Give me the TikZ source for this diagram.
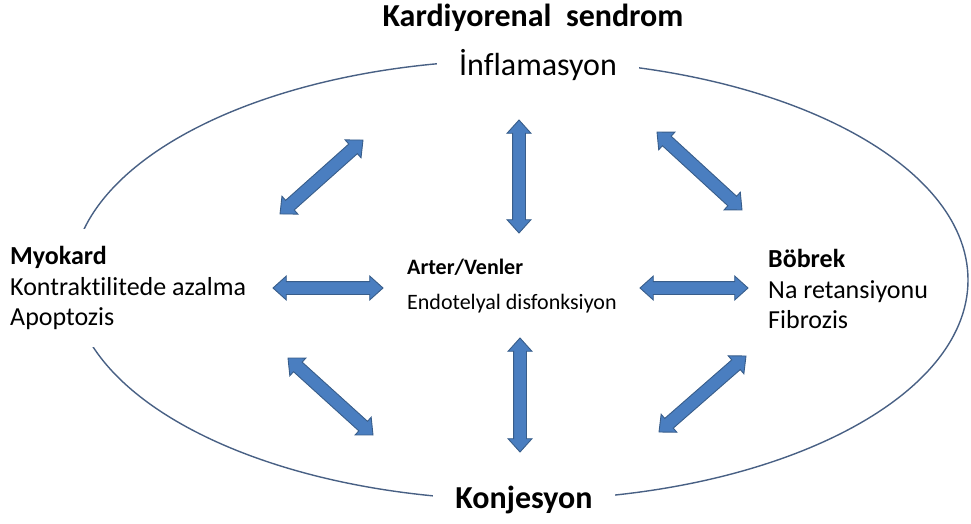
\documentclass[tikz,border=0pt]{standalone}
\usepackage{fontspec}
\setmainfont{Carlito}[Ligatures=CommonOff]
\usetikzlibrary{calc, shapes.arrows}
\definecolor{arrowfill}{RGB}{74,126,192}
\definecolor{arrowline}{RGB}{56,93,138}
\definecolor{ringcol}{RGB}{72,96,132}
\tikzset{
  ring/.style={draw=ringcol, line width=1.4pt}, % the outer ellipse
  heading/.style={font=\fontsize{32}{36}\selectfont\bfseries, inner sep=0pt},
  ringlabel/.style={ % labels that cut the ellipse
    fill=white, inner xsep=22pt, inner ysep=6pt,
    font=\fontsize{32}{36}\selectfont
  },
  sidetext/.style={font=\fontsize{26}{30.5}\selectfont, align=left, inner sep=0pt},
  midtext/.style={font=\fontsize{22}{35}\selectfont, align=left, inner sep=0pt},
  blockarrow/.style={ % blue two-headed block arrow
    double arrow, draw=arrowline, fill=arrowfill, line width=0.9pt,
    inner xsep=0pt, inner ysep=6pt, % shaft 12pt wide
    double arrow head extend=5.5pt, double arrow tip angle=84
  },
  link/.style={to path={
    let \p1=($(\tikztotarget)-(\tikztostart)$),
        \n1={veclen(\x1,\y1)}, \n2={atan2(\y1,\x1)} in
    node[blockarrow, minimum height=\n1, rotate=\n2]
      at ($(\tikztostart)!0.5!(\tikztotarget)$) {}
  }},
}
\begin{document}
\begin{tikzpicture}[x=1pt, y=-1pt]
  \useasboundingbox (0,0) rectangle (971,524);
  % ring
  \draw[ring] (520,280) ellipse [x radius=448, y radius=220];
  \node[heading] (title) at (533,18) {Kardiyorenal\ \ sendrom};
  \node[ringlabel] (infl) at (538,65) {İnflamasyon};
  \node[ringlabel, font=\fontsize{32}{36}\selectfont\bfseries] (konj) at (524,500) {Konjesyon};
  % organs
  \node[sidetext, anchor=west, fill=white, inner ysep=17pt] (myo) at (10,288)
    {\textbf{Myokard}\\Kontraktilitede azalma\\Apoptozis};
  \node[midtext, anchor=west] (art) at (407,286)
    {\textbf{Arter/Venler}\\Endotelyal disfonksiyon};
  \node[sidetext, anchor=west] (bob) at (768,289)
    {\textbf{Böbrek}\\Na retansiyonu\\Fibrozis};
  % arrow ends
  \coordinate (tl1) at (280,214); \coordinate (tl2) at (363,140);
  \coordinate (tc1) at (519,120); \coordinate (tc2) at (519,233);
  \coordinate (tr1) at (657,132); \coordinate (tr2) at (742,210);
  \coordinate (ml1) at (273,288); \coordinate (ml2) at (383,288);
  \coordinate (mr1) at (640,288); \coordinate (mr2) at (748,288);
  \coordinate (bl1) at (288,358); \coordinate (bl2) at (373,435);
  \coordinate (bc1) at (520,338); \coordinate (bc2) at (520,452);
  \coordinate (br1) at (659,432); \coordinate (br2) at (746,356);
  % arrows
  \draw (tl1) to[link] (tl2);
  \draw (tc1) to[link] (tc2);
  \draw (tr1) to[link] (tr2);
  \draw (ml1) to[link] (ml2);
  \draw (mr1) to[link] (mr2);
  \draw (bl1) to[link] (bl2);
  \draw (bc1) to[link] (bc2);
  \draw (br1) to[link] (br2);
\end{tikzpicture}
\end{document}
